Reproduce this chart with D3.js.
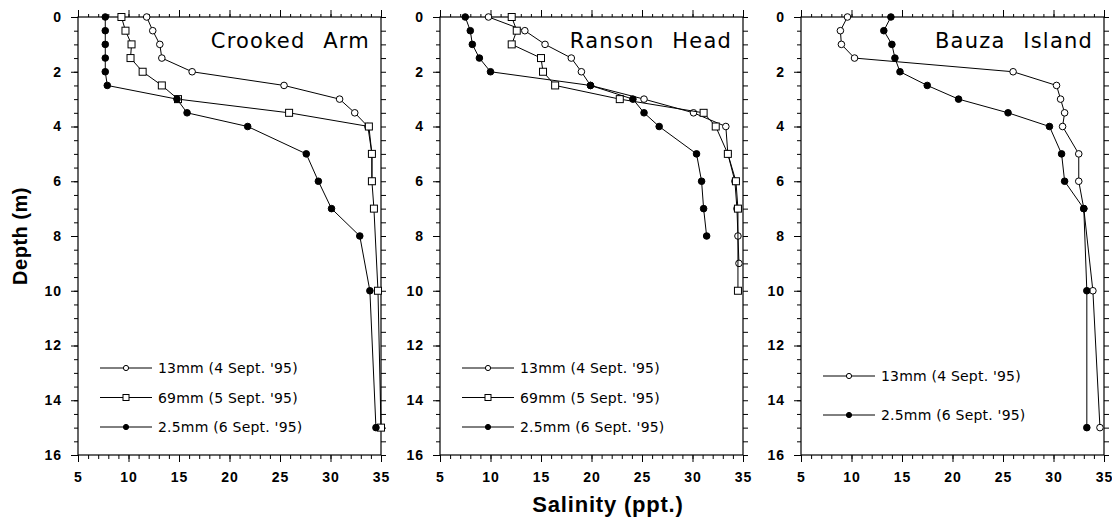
<!DOCTYPE html>
<html>
<head>
<meta charset="utf-8">
<script src="https://cdn.jsdelivr.net/npm/d3@7"></script>
<style>
	body { margin: 0; background: #fff; }
	svg { display: block; }
</style>
</head>
<body>
<svg id="chart" width="1112" height="523"></svg>
<script>
// values, each point is [salinity (ppt), depth (m)]
var sites = ["Crooked Arm", "Ranson Head", "Bauza Island"]
var seriesLabels = ["13mm (4 Sept. '95)", "69mm (5 Sept. '95)", "2.5mm (6 Sept. '95)"]
var depthTicks = [0, 2, 4, 6, 8, 10, 12, 14, 16]
var salinityTicks = [5, 10, 15, 20, 25, 30, 35]

var crooked13 = [[11.8,0],[12.4,0.5],[13.1,1],[13.3,1.5],[16.3,2],[25.4,2.5],[30.9,3],[32.4,3.5],[33.7,4],[34.1,5],[34.1,6]]
var crooked69 = [[9.3,0],[9.7,0.5],[10.3,1],[10.2,1.5],[11.4,2],[13.3,2.5],[14.9,3],[25.9,3.5],[33.8,4],[34.1,5],[34.1,6],[34.3,7],[34.7,10],[35.0,15]]
var crooked25 = [[7.7,0],[7.7,0.5],[7.7,1],[7.7,1.5],[7.7,2],[7.9,2.5],[14.8,3],[15.8,3.5],[21.8,4],[27.6,5],[28.8,6],[30.1,7],[32.9,8],[33.9,10],[34.5,15]]

var ranson13 = [[9.8,0],[13.4,0.5],[15.4,1],[18.0,1.5],[19.0,2],[19.9,2.5],[25.2,3],[30.1,3.5],[33.3,4],[33.5,5],[34.2,6],[34.4,7],[34.5,8],[34.6,9]]
var ranson69 = [[12.1,0],[12.6,0.5],[12.1,1],[15.0,1.5],[15.2,2],[16.4,2.5],[22.8,3],[31.1,3.5],[32.3,4],[33.5,5],[34.3,6],[34.5,7],[34.5,10]]
var ranson25 = [[7.5,0],[8.0,0.5],[8.2,1],[8.9,1.5],[10.0,2],[19.9,2.5],[24.1,3],[25.2,3.5],[26.7,4],[30.4,5],[30.9,6],[31.1,7],[31.4,8]]

var bauza13 = [[9.6,0],[8.9,0.5],[9.0,1],[10.3,1.5],[26.0,2],[30.3,2.5],[30.7,3],[31.1,3.5],[30.9,4],[32.5,5],[32.5,6],[33.0,7],[33.9,10],[34.6,15]]
var bauza25 = [[13.9,0],[13.2,0.5],[14.0,1],[14.3,1.5],[14.8,2],[17.5,2.5],[20.6,3],[25.5,3.5],[29.6,4],[30.8,5],[31.1,6],[33.0,7],[33.3,10],[33.3,15]]

var panels = [
	{ site: sites[0], series: [
		{ label: seriesLabels[0], marker: "circle", values: crooked13 },
		{ label: seriesLabels[1], marker: "square", values: crooked69 },
		{ label: seriesLabels[2], marker: "dot", values: crooked25 } ] },
	{ site: sites[1], series: [
		{ label: seriesLabels[0], marker: "circle", values: ranson13 },
		{ label: seriesLabels[1], marker: "square", values: ranson69 },
		{ label: seriesLabels[2], marker: "dot", values: ranson25 } ] },
	{ site: sites[2], series: [
		{ label: seriesLabels[0], marker: "circle", values: bauza13 },
		{ label: seriesLabels[2], marker: "dot", values: bauza25 } ] }
]

var svg = d3.select("#chart"),
	panelLeft = [78, 440, 801],
	panelTop = 17, w = 303, h = 438,
	tickFont = "'Liberation Sans', Arial, sans-serif",
	textFont = "'DejaVu Sans', Verdana, sans-serif"

var x = d3.scaleLinear().domain([5, 35]).range([0, w]),
	y = d3.scaleLinear().domain([0, 16]).range([0, h])

var drawMarker = (sel, kind, r) => {
	if (kind === "square") {
		sel.append("rect")
			.attr("x", -r).attr("y", -r)
			.attr("width", 2 * r).attr("height", 2 * r)
			.attr("fill", "#fff").attr("stroke", "#000").attr("stroke-width", 1)
	} else {
		sel.append("circle")
			.attr("r", r)
			.attr("fill", kind === "dot" ? "#000" : "#fff")
			.attr("stroke", "#000").attr("stroke-width", 1)
	}
}

var styleAxis = (g) => {
	g.select(".domain").remove()
	g.selectAll("line").attr("stroke", "#000")
	g.selectAll("text")
		.attr("fill", "#000")
		.style("font-family", tickFont)
		.style("font-weight", "bold")
		.style("font-size", "14px")
		.style("letter-spacing", "1px")
}

var line = d3.line().x((d) => x(d[0])).y((d) => y(d[1]))

panels.forEach((p, i) => {
	var g = svg.append("g").attr("transform", "translate(" + panelLeft[i] + "," + panelTop + ")")

	// minor ticks all round
	g.append("g").call(d3.axisLeft(y).tickValues(d3.range(0, 16.01, 0.5)).tickSize(4).tickFormat("")).call(styleAxis)
	g.append("g").attr("transform", "translate(" + w + ",0)")
		.call(d3.axisRight(y).tickValues(d3.range(0, 16.01, 0.5)).tickSize(5).tickFormat("")).call(styleAxis)
	g.append("g").call(d3.axisTop(x).tickValues(d3.range(5, 35.01, 1)).tickSize(3).tickFormat("")).call(styleAxis)
	g.append("g").attr("transform", "translate(0," + h + ")")
		.call(d3.axisBottom(x).tickValues(d3.range(5, 35.01, 1)).tickSize(4).tickFormat("")).call(styleAxis)

	// major ticks with labels
	g.append("g").call(d3.axisLeft(y).tickValues(depthTicks).tickSize(7).tickPadding(9)).call(styleAxis)
	g.append("g").call(d3.axisTop(x).tickValues(salinityTicks).tickSize(7).tickFormat("")).call(styleAxis)
	g.append("g").attr("transform", "translate(0," + h + ")")
		.call(d3.axisBottom(x).tickValues(salinityTicks).tickSize(7).tickPadding(10)).call(styleAxis)

	g.append("rect")
		.attr("width", w).attr("height", h)
		.attr("fill", "none").attr("stroke", "#000").attr("stroke-width", 1.2)

	g.append("text")
		.attr("x", w - 11).attr("y", 31)
		.attr("text-anchor", "end")
		.style("font-family", textFont)
		.style("font-size", "21px")
		.style("letter-spacing", "1.2px")
		.style("word-spacing", "10px")
		.text(p.site)

	p.series.forEach((s) => {
		g.append("path")
			.datum(s.values)
			.attr("d", line)
			.attr("fill", "none").attr("stroke", "#000").attr("stroke-width", 1)
		g.selectAll(null)
			.data(s.values)
			.enter().append("g")
			.attr("transform", (d) => "translate(" + x(d[0]) + "," + y(d[1]) + ")")
			.each(function () { drawMarker(d3.select(this), s.marker, s.marker === "square" ? 3.5 : 3.3) })
	})

	// legend
	var legTop = p.series.length === 3 ? 351 : 359,
		legStep = p.series.length === 3 ? 29.5 : 39
	p.series.forEach((s, k) => {
		var lg = g.append("g").attr("transform", "translate(0," + (legTop + k * legStep) + ")")
		lg.append("line").attr("x1", 22).attr("x2", 74).attr("stroke", "#000").attr("stroke-width", 1)
		var m = lg.append("g").attr("transform", "translate(48,0)")
		drawMarker(m, s.marker, s.marker === "square" ? 3 : 2.6)
		lg.append("text")
			.attr("x", 80).attr("dy", "0.36em")
			.style("font-family", textFont)
			.style("font-size", "14px")
			.style("letter-spacing", "0.2px")
			.text(s.label)
	})
})

svg.append("text")
	.attr("transform", "translate(27,236) rotate(-90)")
	.attr("text-anchor", "middle")
	.style("font-family", tickFont)
	.style("font-weight", "bold")
	.style("font-size", "20px")
	.style("letter-spacing", "0.5px")
	.text("Depth (m)")

svg.append("text")
	.attr("x", 608).attr("y", 512)
	.attr("text-anchor", "middle")
	.style("font-family", tickFont)
	.style("font-weight", "bold")
	.style("font-size", "22px")
	.style("letter-spacing", "0.8px")
	.text("Salinity (ppt.)")
</script>
</body>
</html>
